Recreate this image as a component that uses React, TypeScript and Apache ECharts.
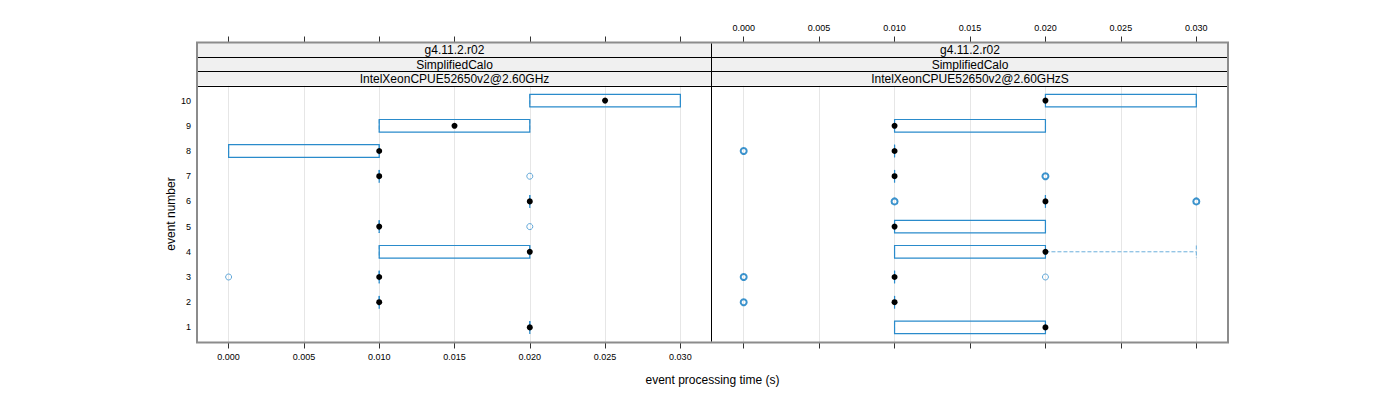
import React, { useEffect, useRef } from "react";
import * as echarts from "echarts";

// ---- data ----
const events = [1, 2, 3, 4, 5, 6, 7, 8, 9, 10];
const xTickValues = [0, 0.005, 0.01, 0.015, 0.02, 0.025, 0.03];
const xMin = -0.0021;
const xMax = 0.0321;

const leftStrips = ["g4.11.2.r02", "SimplifiedCalo", "IntelXeonCPUE52650v2@2.60GHz"];
const rightStrips = ["g4.11.2.r02", "SimplifiedCalo", "IntelXeonCPUE52650v2@2.60GHzS"];

// left panel: box statistics per event (1..10)
const leftLow = [0.02, 0.01, 0.01, 0.01, 0.01, 0.02, 0.01, 0.0, 0.01, 0.02];
const leftQ1 = [0.02, 0.01, 0.01, 0.01, 0.01, 0.02, 0.01, 0.0, 0.01, 0.02];
const leftMedian = [0.02, 0.01, 0.01, 0.02, 0.01, 0.02, 0.01, 0.01, 0.015, 0.025];
const leftQ3 = [0.02, 0.01, 0.01, 0.02, 0.01, 0.02, 0.01, 0.01, 0.02, 0.03];
const leftHigh = [0.02, 0.01, 0.01, 0.02, 0.01, 0.02, 0.01, 0.01, 0.02, 0.03];
const leftOutX = [0.0, 0.02, 0.02];
const leftOutEvent = [3, 5, 7];
const leftOutCount = [1, 1, 1];

// right panel
const rightLow = [0.01, 0.01, 0.01, 0.01, 0.01, 0.02, 0.01, 0.01, 0.01, 0.02];
const rightQ1 = [0.01, 0.01, 0.01, 0.01, 0.01, 0.02, 0.01, 0.01, 0.01, 0.02];
const rightMedian = [0.02, 0.01, 0.01, 0.02, 0.01, 0.02, 0.01, 0.01, 0.01, 0.02];
const rightQ3 = [0.02, 0.01, 0.01, 0.02, 0.02, 0.02, 0.01, 0.01, 0.02, 0.03];
const rightHigh = [0.02, 0.01, 0.01, 0.03, 0.02, 0.02, 0.01, 0.01, 0.02, 0.03];
const rightOutX = [0.0, 0.0, 0.02, 0.01, 0.03, 0.02, 0.0];
const rightOutEvent = [2, 3, 3, 6, 6, 7, 8];
const rightOutCount = [3, 3, 1, 2, 2, 2, 3];

// ---- styles ----
const FONT = "'Liberation Sans', Arial, Helvetica, sans-serif";
const BOX = "#2a8bcb";
const UMB = "#6aaedb";
const OUT = "#0b78c0";

const G = { x0: 197, x1: 712, x2: 1228, top: 85.5, bottom: 342.5, stripTop: 42.5 };

function boxData(lo: number[], q1: number[], med: number[], q3: number[], hi: number[]) {
  return events.map((e, i) => [e, lo[i], q1[i], med[i], q3[i], hi[i]]);
}

const renderBox = (params: any, api: any) => {
  const ev = api.value(0);
  const lo = api.coord([api.value(1), ev]);
  const q1 = api.coord([api.value(2), ev]);
  const md = api.coord([api.value(3), ev]);
  const q3 = api.coord([api.value(4), ev]);
  const hi = api.coord([api.value(5), ev]);
  const h = api.size([0, 0.25])[1];
  const y = md[1];
  const dash = { stroke: UMB, lineWidth: 1, lineDash: [4, 2], fill: "none" };
  return {
    type: "group",
    children: [
      { type: "line", shape: { x1: lo[0], y1: y, x2: q1[0], y2: y }, style: dash },
      { type: "line", shape: { x1: q3[0], y1: y, x2: hi[0], y2: y }, style: dash },
      { type: "line", shape: { x1: lo[0], y1: y - h, x2: lo[0], y2: y + h }, style: dash },
      { type: "line", shape: { x1: hi[0], y1: y - h, x2: hi[0], y2: y + h }, style: dash },
      {
        type: "polygon",
        shape: { points: [[q1[0], y - h], [q3[0], y - h], [q3[0], y + h], [q1[0], y + h]] },
        style: { stroke: BOX, lineWidth: 1.2, fill: "none" },
      },
      { type: "circle", shape: { cx: md[0], cy: y, r: 3 }, style: { fill: "#000" } },
    ],
  };
};

function outSeries(xs: number[], evs: number[], cnt: number[], xi: number, yi: number, multi: boolean) {
  const data = xs
    .map((x, i) => ({ x, e: evs[i], c: cnt[i] }))
    .filter((d) => (multi ? d.c > 1 : d.c <= 1))
    .map((d) => [d.x, d.e]);
  return {
    type: "scatter",
    xAxisIndex: xi,
    yAxisIndex: yi,
    data,
    symbol: "circle",
    symbolSize: 6,
    z: 3,
    itemStyle: { color: "rgba(0,0,0,0)", borderColor: multi ? OUT : "#3d93cf", borderWidth: multi ? 2 : 1 },
    silent: true,
  };
}

function xAxisDef(grid: number, pos: "top" | "bottom", labels: boolean) {
  return {
    type: "value",
    gridIndex: grid,
    position: pos,
    offset: pos === "top" ? G.top - G.stripTop : 0,
    min: xMin,
    max: xMax,
    axisLine: { show: false },
    axisTick: { show: true, length: 6, inside: false, customValues: xTickValues, lineStyle: { color: "#333", width: 1 } },
    axisLabel: {
      show: labels,
      customValues: xTickValues,
      margin: 10,
      fontSize: 9,
      fontFamily: FONT,
      color: "#000",
      formatter: (v: number) => v.toFixed(3),
    },
    splitLine: pos === "bottom" ? { show: true, lineStyle: { color: "#e6e6e6", width: 1 } } : { show: false },
  };
}

function yAxisDef(grid: number, labels: boolean) {
  return {
    type: "value",
    gridIndex: grid,
    min: 0.4,
    max: 10.6,
    axisLine: { show: false },
    axisTick: { show: false, customValues: events },
    axisLabel: { show: labels, customValues: events, margin: 6, fontSize: 9, fontFamily: FONT, color: "#000" },
    splitLine: { show: false },
  };
}

function stripGraphics(x0: number, x1: number, texts: string[]) {
  const h = (G.top - G.stripTop) / 3;
  return texts.map((t, i) => ({
    type: "text",
    x: (x0 + x1) / 2,
    y: G.stripTop + h * i + h / 2 + 0.5,
    z: 20,
    style: { text: t, fontSize: 12, fontFamily: FONT, fill: "#000", textAlign: "center", textVerticalAlign: "middle" },
  }));
}

export default function App() {
  const ref = useRef<HTMLDivElement>(null);
  useEffect(() => {
    if (!ref.current) return;
    const chart = echarts.init(ref.current, undefined, { renderer: "svg" });
    const h = (G.top - G.stripTop) / 3;
    const option: any = {
      animation: false,
      backgroundColor: "#fff",
      grid: [
        { left: G.x0, top: G.top, width: G.x1 - G.x0, height: G.bottom - G.top },
        { left: G.x1, top: G.top, width: G.x2 - G.x1, height: G.bottom - G.top },
      ],
      xAxis: [
        xAxisDef(0, "bottom", true),
        xAxisDef(0, "top", false),
        xAxisDef(1, "bottom", false),
        xAxisDef(1, "top", true),
      ],
      yAxis: [yAxisDef(0, true), yAxisDef(1, false)],
      series: [
        {
          type: "custom",
          xAxisIndex: 0,
          yAxisIndex: 0,
          renderItem: renderBox,
          data: boxData(leftLow, leftQ1, leftMedian, leftQ3, leftHigh),
          encode: { x: [1, 2, 3, 4, 5], y: 0 },
          z: 4,
        },
        {
          type: "custom",
          xAxisIndex: 2,
          yAxisIndex: 1,
          renderItem: renderBox,
          data: boxData(rightLow, rightQ1, rightMedian, rightQ3, rightHigh),
          encode: { x: [1, 2, 3, 4, 5], y: 0 },
          z: 4,
        },
        outSeries(leftOutX, leftOutEvent, leftOutCount, 0, 0, false),
        outSeries(leftOutX, leftOutEvent, leftOutCount, 0, 0, true),
        outSeries(rightOutX, rightOutEvent, rightOutCount, 2, 1, false),
        outSeries(rightOutX, rightOutEvent, rightOutCount, 2, 1, true),
        { type: "scatter", xAxisIndex: 1, yAxisIndex: 0, data: [] },
        { type: "scatter", xAxisIndex: 3, yAxisIndex: 1, data: [] },
      ],
      graphic: [
        {
          type: "rect",
          z: 10,
          shape: { x: G.x0, y: G.stripTop, width: G.x2 - G.x0, height: G.top - G.stripTop },
          style: { fill: "#f0f0f0" },
        },
        ...[1, 2, 3].map((k) => ({
          type: "line",
          z: 15,
          shape: { x1: G.x0, y1: Math.round(G.stripTop + h * k) + 0.5, x2: G.x2, y2: Math.round(G.stripTop + h * k) + 0.5 },
          style: { stroke: "#000", lineWidth: 1 },
        })),
        {
          type: "rect",
          z: 16,
          shape: { x: G.x0, y: G.stripTop, width: G.x2 - G.x0, height: G.bottom - G.stripTop },
          style: { fill: "none", stroke: "#8c8c8c", lineWidth: 2 },
        },
        {
          type: "line",
          z: 18,
          shape: { x1: G.x1 - 0.5, y1: G.stripTop + 1, x2: G.x1 - 0.5, y2: G.bottom - 1 },
          style: { stroke: "#000", lineWidth: 1 },
        },
        ...stripGraphics(G.x0, G.x1, leftStrips),
        ...stripGraphics(G.x1, G.x2, rightStrips),
        {
          type: "text",
          x: (G.x0 + G.x2) / 2,
          y: 380,
          style: { text: "event processing time (s)", fontSize: 12, fontFamily: FONT, fill: "#000", textAlign: "center", textVerticalAlign: "middle" },
        },
        {
          type: "text",
          x: 171,
          y: (G.top + G.bottom) / 2,
          rotation: Math.PI / 2,
          style: { text: "event number", fontSize: 12, fontFamily: FONT, fill: "#000", textAlign: "center", textVerticalAlign: "middle" },
        },
      ],
    };
    chart.setOption(option);
    return () => chart.dispose();
  }, []);
  return <div ref={ref} style={{ position: "fixed", left: 0, top: 0, width: 1400, height: 400 }} />;
}
